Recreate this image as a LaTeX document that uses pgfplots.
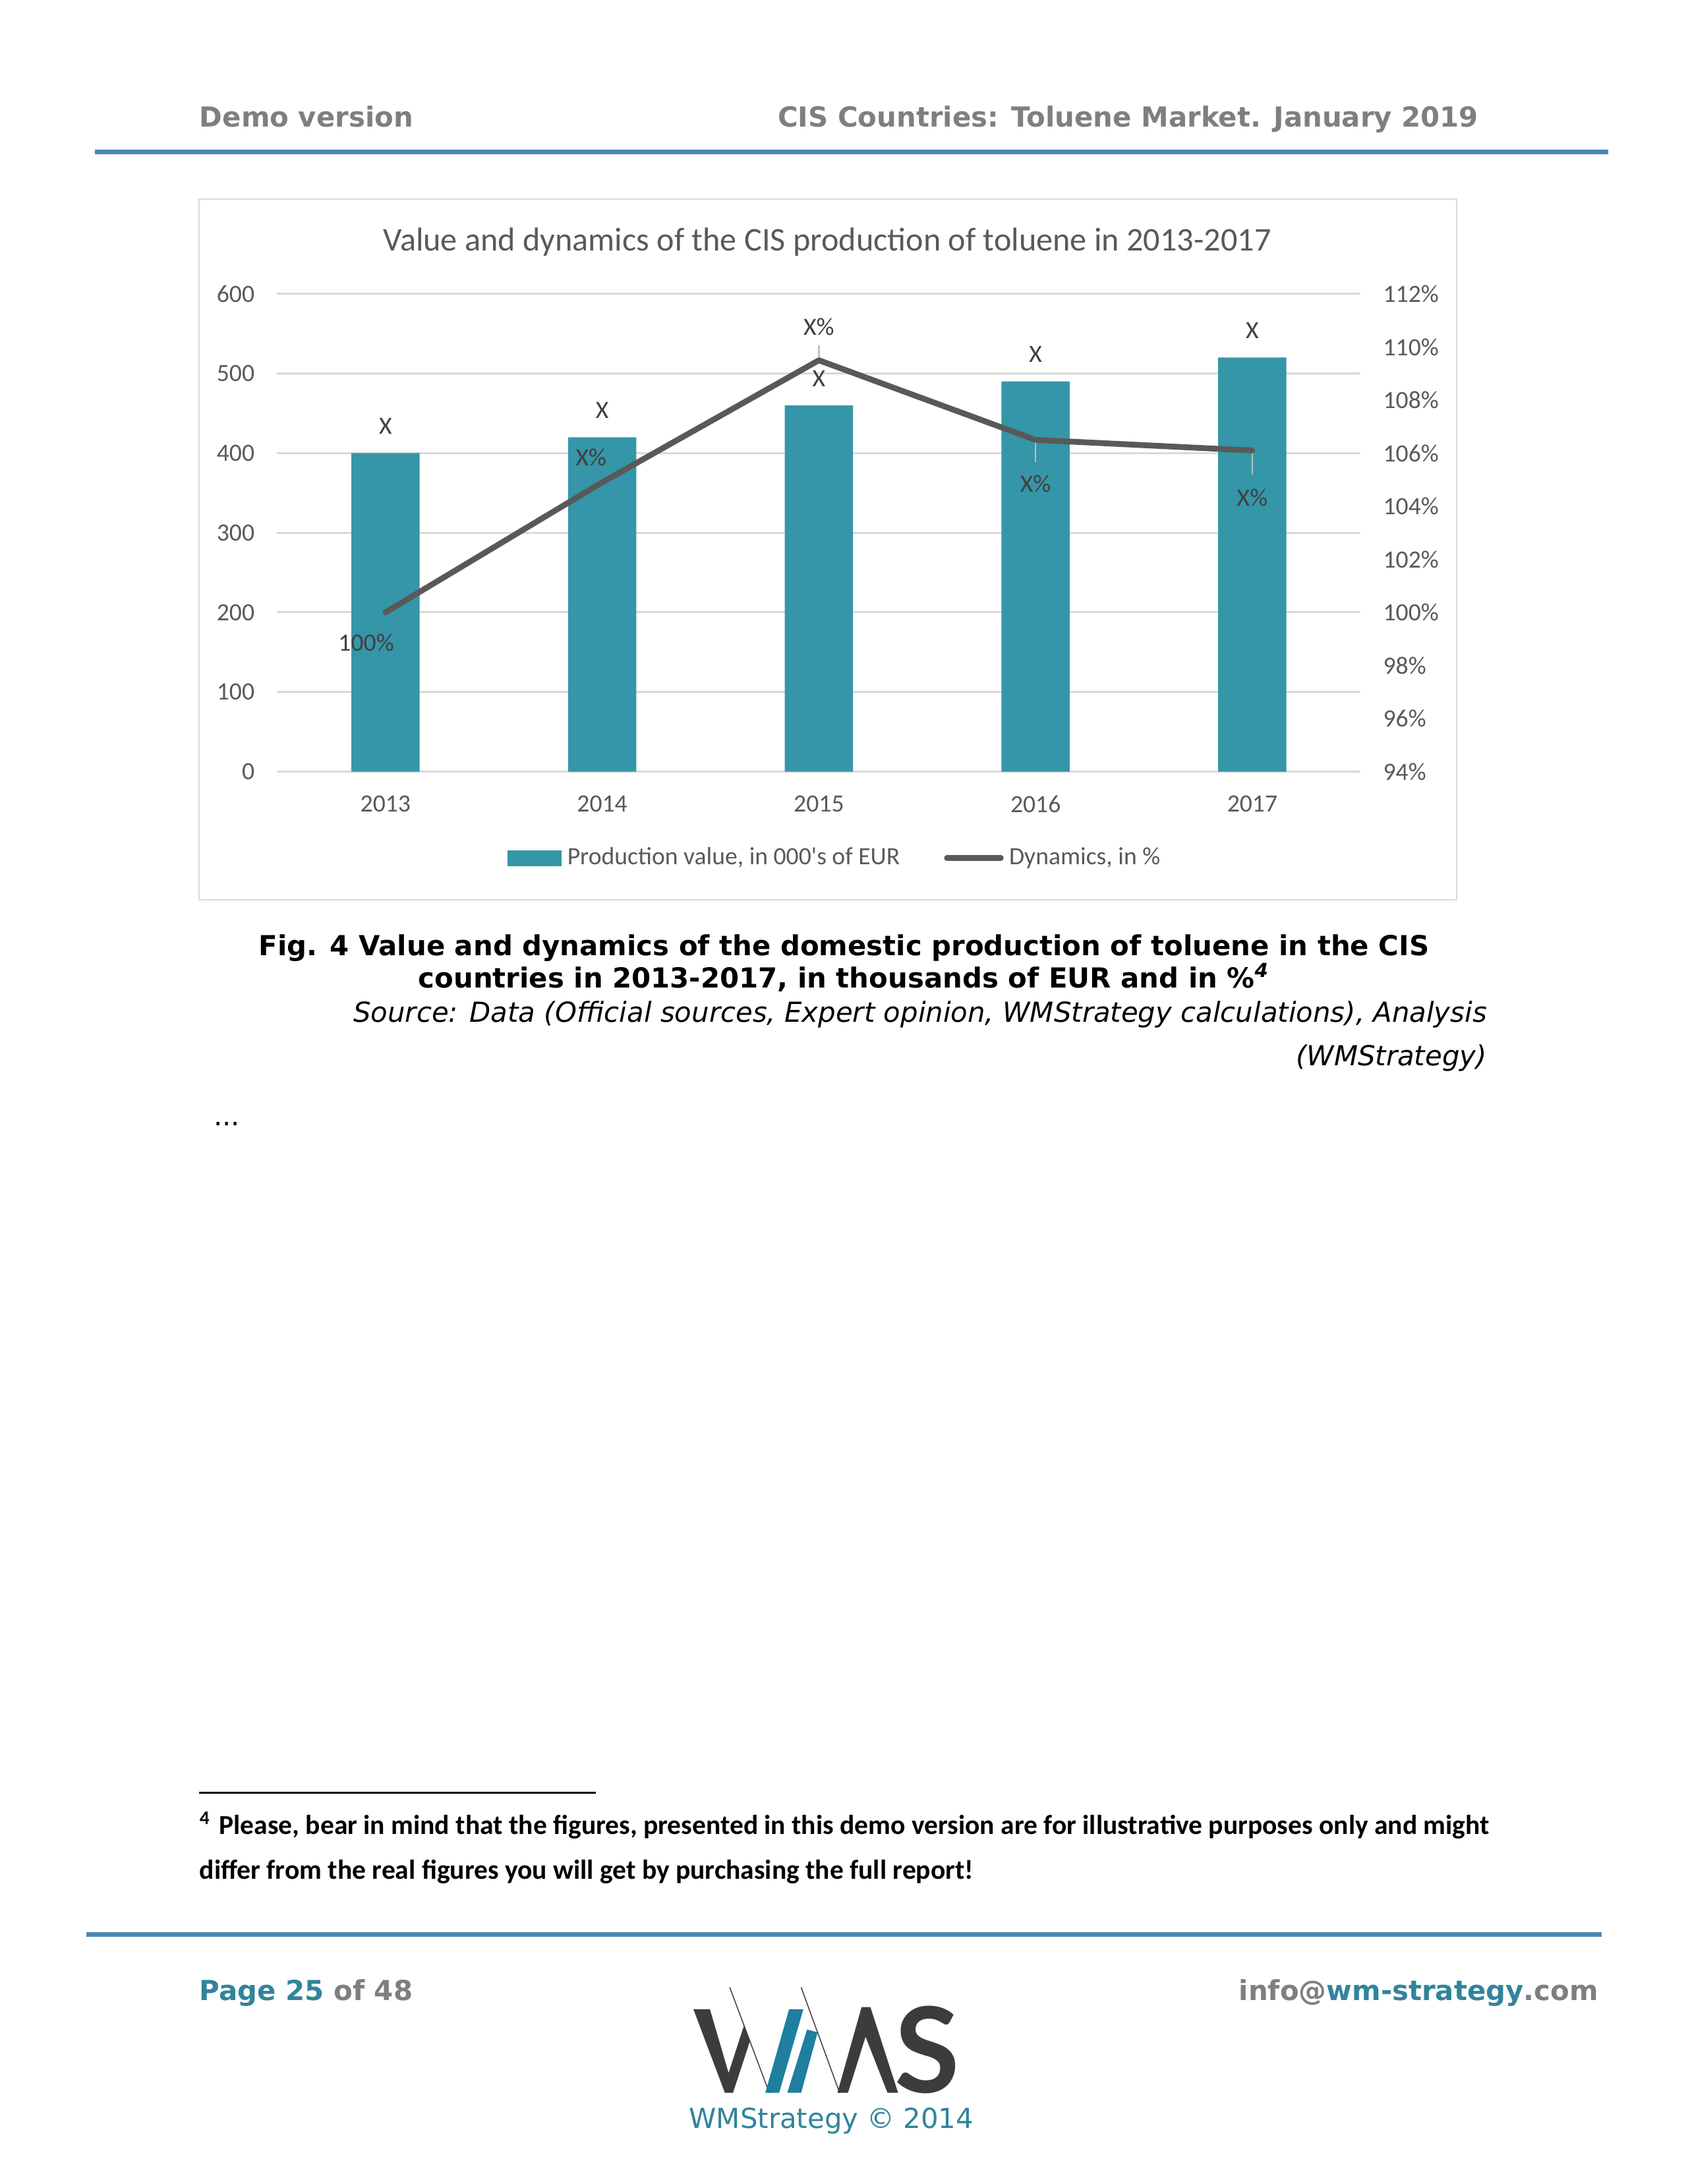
\documentclass[border=0pt]{standalone}
\usepackage{fontspec}
\usepackage{pgfplots}
\usepackage{pgfplotstable}
\pgfplotsset{compat=1.18}
\setmainfont{DejaVu Sans}
\newfontfamily\carlito{Carlito}
\newfontfamily\verd{DejaVu Sans}
\newfontfamily\lato{Lato}
\definecolor{barc}{HTML}{3496A8}
\definecolor{linec}{HTML}{595959}
\definecolor{txt}{HTML}{595959}
\definecolor{lbl}{HTML}{404040}
\definecolor{gridc}{HTML}{D9D9D9}
\definecolor{hdr}{HTML}{7F7F7F}
\definecolor{rulec}{HTML}{4A86B4}
\definecolor{tealc}{HTML}{31849B}
\definecolor{logoteal}{HTML}{1E7F9E}
\definecolor{logodark}{HTML}{3C3C3C}

\pgfplotstableread{
x y
0 400
1 420
2 460
3 490
4 520
}\bars

\pgfplotstableread{
x y lab dx dy ep em
0 100   100\% -7 -11 0 0
1 104.9 X\%   -4  9  0 0
2 109.5 X\%    0 12  0.55 0
3 106.5 X\%    0 -16 0 0.85
4 106.1 X\%    0 -17 0 0.9
}\dyn

\begin{document}
\begin{tikzpicture}[x=0.505pt,y=0.505pt]
\useasboundingbox (0,0) rectangle (1212,1568);
\fill[white] (0,0) rectangle (1212,1568);
\coordinate (axpos) at (199,1014);
% header
\node[anchor=base west, inner sep=0pt, font=\verd\bfseries\fontsize{10}{12}\selectfont, text=hdr] at (143,1477) {Demo version};
\node[anchor=base east, inner sep=0pt, font=\verd\bfseries\fontsize{10}{12}\selectfont, text=hdr] at (1062,1477) {CIS Countries: Toluene Market. January 2019};
\draw[rulec, line width=1.6pt] (68,1459) -- (1155,1459);
% chart frame
\draw[gridc, line width=0.6pt] (143,922) rectangle (1046,1425);
\node[font=\carlito\fontsize{12}{14}\selectfont, text=txt, inner sep=0pt] at (594,1394) {Value and dynamics of the CIS production of toluene in 2013-2017};

\begin{axis}[
 at={(axpos)}, anchor=south west, scale only axis,
 width=392.9pt, height=173.2pt,
 xmin=-0.5, xmax=4.5, ymin=0, ymax=600,
 xtick={0,1,2,3,4}, xticklabels={2013,2014,2015,2016,2017},
 ytick={0,100,...,600},
 axis line style={draw=none},
 ymajorgrids, major grid style={draw=gridc, line width=0.7pt},
 major tick length=0pt, tick style={draw=none},
 ticklabel style={font=\carlito\fontsize{9}{11}\selectfont, text=txt, inner sep=0pt},
 yticklabel style={xshift=-8pt},
 xticklabel style={yshift=-8.5pt},
 /pgf/number format/assume math mode=true,
 ybar, bar width=24.75pt,
 clip=false,
]
\addplot[fill=barc, draw=none, nodes near coords={X},
  every node near coord/.append style={font=\carlito\fontsize{9}{11}\selectfont, text=lbl, inner sep=0pt, yshift=6.7pt}]
  table[x=x,y=y] {\bars};
\end{axis}

\begin{axis}[
 at={(axpos)}, anchor=south west, scale only axis,
 width=392.9pt, height=173.2pt,
 xmin=-0.5, xmax=4.5, ymin=94, ymax=112,
 ytick={94,96,...,112},
 axis y line*=right, hide x axis,
 axis line style={draw=none},
 major tick length=0pt, tick style={draw=none},
 ticklabel style={font=\carlito\fontsize{9}{11}\selectfont, text=txt, inner sep=0pt},
 yticklabel style={xshift=8pt},
 yticklabel={\pgfmathprintnumber{\tick}\%},
 /pgf/number format/assume math mode=true,
 clip=false,
 legend style={at={(0.5165,-0.181)}, anchor=center, draw=none, fill=none,
   font=\carlito\fontsize{9}{11}\selectfont, text=txt,
   /tikz/every even column/.append style={column sep=14pt}},
 legend columns=2,
]
\addlegendimage{legend image code/.code={\fill[barc] (0pt,-2.7pt) rectangle (19.2pt,2.7pt);}}
\addlegendentry{Production value, in 000's of EUR}
\addplot[draw=none, mark=none, forget plot,
  error bars/.cd, y dir=both, y explicit,
  error bar style={color=gray!50, line width=0.6pt}, error mark=none]
  table[x=x, y=y, y error plus=ep, y error minus=em] {\dyn};
\addplot[linec, line width=2.1pt, line join=round, line cap=round, mark=none,
  legend image code/.code={\draw[linec, line width=2.1pt, line cap=round] (0pt,0pt) -- (19.5pt,0pt);}]
  table[x=x,y=y] {\dyn};
\addlegendentry{Dynamics, in \%}
\addplot[draw=none, mark=none, forget plot, nodes near coords, point meta=explicit symbolic,
  visualization depends on={\thisrow{dx} \as \dx},
  visualization depends on={\thisrow{dy} \as \dy},
  nodes near coords align={anchor=center},
  every node near coord/.append style={font=\carlito\fontsize{9}{11}\selectfont, text=lbl, inner sep=0pt, anchor=center, xshift=\dx pt, yshift=\dy pt}]
  table[x=x, y=y, meta=lab] {\dyn};
\end{axis}

% caption
\node[anchor=base, inner sep=0pt, font=\verd\bfseries\fontsize{10}{12}\selectfont, text=black] at (606,882) {Fig. 4 Value and dynamics of the domestic production of toluene in the CIS};
\node[anchor=base, inner sep=0pt, font=\verd\bfseries\fontsize{10}{12}\selectfont, text=black] at (606,859) {countries in 2013-2017, in thousands of EUR and in \%\textsuperscript{\itshape 4}};
\node[anchor=base east, inner sep=0pt, font=\verd\itshape\fontsize{10}{12}\selectfont, text=black] at (1068,834) {Source: Data (Official sources, Expert opinion, WMStrategy calculations), Analysis};
\node[anchor=base east, inner sep=0pt, font=\verd\itshape\fontsize{10}{12}\selectfont, text=black] at (1068,803) {(WMStrategy)};
\node[anchor=base west, inner sep=0pt, font=\verd\fontsize{10}{12}\selectfont, text=black] at (153,760) {...};

% footnote
\draw[black, line width=0.7pt] (143,281) -- (428,281);
\node[anchor=base west, inner sep=0pt, font=\carlito\bfseries\fontsize{7}{8}\selectfont] at (143,258) {4};
\node[anchor=base west, inner sep=0pt, font=\carlito\bfseries\fontsize{9.93}{12}\selectfont] at (157,251) {Please, bear in mind that the figures, presented in this demo version are for illustrative purposes only and might};
\node[anchor=base west, inner sep=0pt, font=\carlito\bfseries\fontsize{9.93}{12}\selectfont] at (143,219) {differ from the real figures you will get by purchasing the full report!};

% footer
\draw[rulec, line width=1.6pt] (62,179) -- (1150,179);
\node[anchor=base west, inner sep=0pt, font=\verd\bfseries\fontsize{10}{12}\selectfont] at (143,132) {\textcolor{tealc}{Page 25} \textcolor{hdr}{of 48}};
\node[anchor=base east, inner sep=0pt, font=\verd\bfseries\fontsize{10}{12}\selectfont] at (1148,132) {\textcolor{hdr}{info@}\textcolor{tealc}{wm-strategy}\textcolor{hdr}{.com}};
\node[anchor=base, inner sep=0pt, font=\verd\fontsize{10}{12}\selectfont, text=tealc] at (597,40) {WMStrategy © 2014};

% logo
\begin{scope}[shift={(492.4,147.55)}, xscale=0.15783, yscale=-0.15783]
\fill[logodark] (35,140) -- (110,140) -- (195,430) -- (265,214) -- (292,285) -- (215,520) -- (178,520) -- cycle;
\draw[logodark, line width=0.35pt] (200,40) -- (380,520);
\fill[logoteal] (470,140) -- (535,140) -- (425,520) -- (362,520) -- cycle;
\fill[logoteal] (462,520) -- (525,520) -- (600,245) -- (552,232) -- cycle;
\draw[logodark, line width=0.35pt] (525,40) -- (700,520);
\fill[logodark] (690,520) -- (738,520) -- (818,265) -- (918,520) -- (966,520) -- (840,130) -- (800,130) -- cycle;
\node[font=\lato\bfseries\fontsize{43}{43}\selectfont, text=logodark, inner sep=0pt] at (1100,325) {S};
\end{scope}
\end{tikzpicture}
\end{document}
